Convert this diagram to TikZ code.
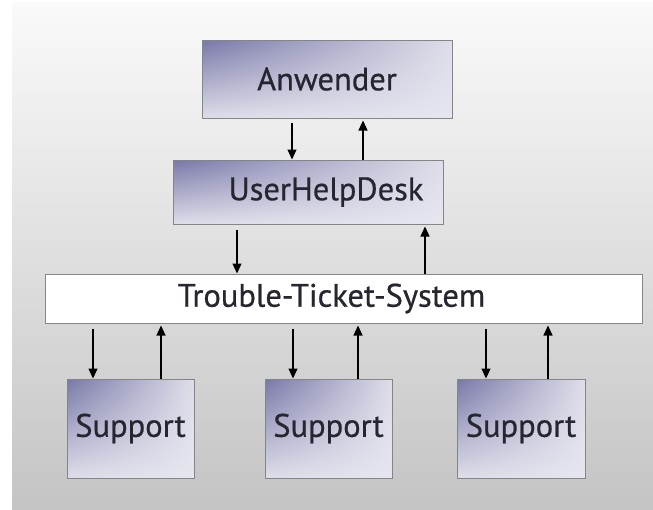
\documentclass[tikz,border=0pt]{standalone}
\usepackage{fontspec}
\setmainfont[FakeBold=0.6]{PT Sans}
\usetikzlibrary{arrows.meta,shadings}
\definecolor{bgtop}{HTML}{FAFAFA}
\definecolor{bgbot}{HTML}{C4C4C4}
\definecolor{bdark}{HTML}{7878A8}
\definecolor{blight}{HTML}{DEDEEA}
\definecolor{blight2}{HTML}{E6E6F0}
\definecolor{bord}{HTML}{858585}
\definecolor{txt}{HTML}{262630}
\tikzset{
  box/.style={draw=bord, line width=1pt, shade, upper left=bdark, upper right=blight,
    lower left=blight, lower right=blight2, inner sep=0pt, text=txt,
    font=\fontsize{32.5}{34}\selectfont},
  plainbox/.style={draw=bord, line width=1pt, fill=white, inner sep=0pt, text=txt,
    font=\fontsize{32.5}{34}\selectfont},
  arr/.style={line width=1.1pt, -{Triangle[length=10pt,width=9pt]}}
}
\begin{document}
\begin{tikzpicture}[x=1pt,y=-1pt]
\useasboundingbox (0,0) rectangle (653,509);
\shade[top color=bgtop, bottom color=bgbot] (12,2) rectangle (653,509);
\node[box, minimum width=250pt, minimum height=78pt] (anw) at (327,79) {Anwender};
\node[box, minimum width=270pt, minimum height=64pt] (uhd) at (308,192) {\hspace*{36pt}UserHelpDesk};
\node[plainbox, minimum width=597pt, minimum height=49pt] (tts) at (343.5,298.5) {Trouble-Ticket-System\hspace*{24pt}};
\node[box, minimum width=127pt, minimum height=99pt] (s1) at (130.5,428.5) {Support};
\node[box, minimum width=127pt, minimum height=99pt] (s2) at (328.5,428.5) {Support};
\node[box, minimum width=128pt, minimum height=99pt] (s3) at (521,428.5) {Support};
\draw[arr] ([yshift=-4pt]anw.south -| 292,0) -- (uhd.north -| 292,0);
\draw[arr] (uhd.north -| 363,0) -- ([yshift=-2pt]anw.south -| 363,0);
\draw[arr] ([yshift=-5pt]uhd.south -| 237,0) -- (tts.north -| 237,0);
\draw[arr] (tts.north -| 425,0) -- ([yshift=-2pt]uhd.south -| 425,0);
\foreach \s/\a/\b in {s1/93/161, s2/293/358, s3/486/548}{
  \draw[arr] ([yshift=-5pt]tts.south -| \a,0) -- (\s.north -| \a,0);
  \draw[arr] (\s.north -| \b,0) -- ([yshift=-2pt]tts.south -| \b,0);
}
\end{tikzpicture}
\end{document}
